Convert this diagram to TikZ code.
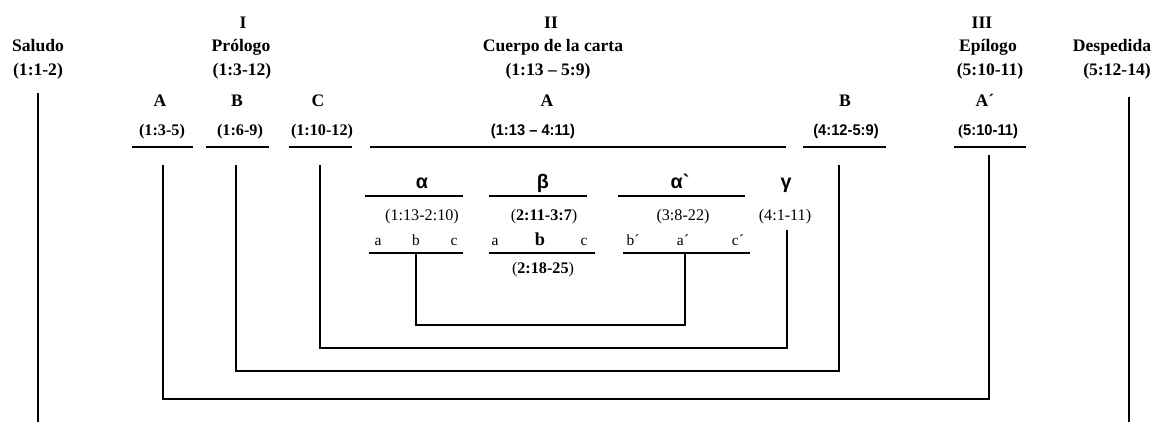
\documentclass[tikz,border=0pt]{standalone}
\usepackage{fontspec}
\setmainfont{Liberation Serif}
\setsansfont{Liberation Sans}
\newfontfamily\narrowsans[FakeStretch=0.95]{Liberation Sans}
\newfontfamily\gkfont[Ligatures=TeXOff]{Liberation Sans}
\usepackage{tikz}

\begin{document}
\begin{tikzpicture}[x=0.025cm,y=-0.025cm,
    every node/.style={inner sep=0pt, outer sep=0pt, anchor=base},
    hdr/.style={font=\bfseries\fontsize{12.5}{14}\selectfont},
    bref/.style={font=\bfseries\fontsize{11.5}{13}\selectfont},
    sref/.style={font=\narrowsans\bfseries\fontsize{11}{13}\selectfont},
    gk/.style={font=\gkfont\bfseries\fontsize{14}{16}\selectfont},
    rref/.style={font=\fontsize{11.5}{13}\selectfont},
    let/.style={font=\fontsize{11}{13}\selectfont},
    bar/.style={line width=1.3pt},
    link/.style={line width=1pt}]
      \useasboundingbox (0,0) rectangle (1173,424);
      % top headings
      \node[hdr] (sal) at (38,51) {Saludo};
      \node[hdr] (salr) at (38,75) {(1:1-2)};
      \node[hdr] (pI) at (243,28) {I};
      \node[hdr] (pro) at (241,51) {Prólogo};
      \node[hdr] (pror) at (242,75) {(1:3-12)};
      \node[hdr] (pII) at (551,28) {II};
      \node[hdr] (cue) at (553,51) {Cuerpo de la carta};
      \node[hdr] (cuer) at (548,75) {(1:13 – 5:9)};
      \node[hdr] (pIII) at (982,28) {III};
      \node[hdr] (epi) at (988,51) {Epílogo};
      \node[hdr] (epir) at (990,75) {(5:10-11)};
      \node[hdr] (des) at (1112,51) {Despedida};
      \node[hdr] (desr) at (1117,75) {(5:12-14)};
      % second level
      \node[hdr] (sA) at (160,106) {A};
      \node[hdr] (sB) at (237,106) {B};
      \node[hdr] (sC) at (318,106) {C};
      \node[hdr] (cA) at (547,106) {A};
      \node[hdr] (cB) at (845,106) {B};
      \node[hdr] (eA) at (985,106) {A´};
      \node[bref] (sAr) at (162,135) {(1:3-5)};
      \node[bref] (sBr) at (240,135) {(1:6-9)};
      \node[bref] (sCr) at (322,135) {(1:10-12)};
      \node[sref] (cAr) at (533,135) {(1:13 – 4:11)};
      \node[sref] (cBr) at (846,135) {(4:12-5:9)};
      \node[sref] (eAr) at (988,135) {{\rmfamily(}5:10-11)};
      % third level
      \node[gk] (ga) at (422,188) {α};
      \node[gk] (gb) at (543,188) {β};
      \node[gk] (gap) at (680,188) {α`};
      \node[gk] (gg) at (786,188) {γ};
      \node[rref] (gar) at (422,220) {(1:13-2:10)};
      \node[rref] (gbr) at (544,220) {(\textbf{2:11-3:7})};
      \node[rref] (gapr) at (683,220) {(3:8-22)};
      \node[rref] (ggr) at (785,220) {(4:1-11)};
      % fourth level
      \node[let] (l1a) at (378,245) {a};
      \node[let] (l1b) at (416,245) {b};
      \node[let] (l1c) at (454,245) {c};
      \node[let] (l2a) at (495,245) {a};
      \node[let, font=\bfseries\fontsize{13}{15}\selectfont] (l2b) at (540,245) {b};
      \node[let] (l2c) at (584,245) {c};
      \node[let] (l3b) at (633,245) {b´};
      \node[let] (l3a) at (683,245) {a´};
      \node[let] (l3c) at (738,245) {c´};
      \node[rref] (l2br) at (543,273) {(\textbf{2:18-25})};
      % bars
      \foreach \xa/\xb/\y in {132/193/147, 206/269/147, 289/352/147, 370/786/147,
          803/886/147, 954/1026/147, 365/463/196, 489/587/196, 618/745/196,
          369/463/253, 489/595/253, 623/750/253}
        \draw[bar] (\xa,\y) -- (\xb,\y);
      % link ends
      \coordinate (tSal) at (38,93);
      \coordinate (tDes) at (1129,97);
      \coordinate (bot) at (0,422);
      \coordinate (tA) at (163,165);
      \coordinate (tAp) at (989,155);
      \coordinate (tB) at (236,165);
      \coordinate (tBp) at (839,165);
      \coordinate (tC) at (320,165);
      \coordinate (tG) at (787,230);
      \coordinate (tb) at (416,253);
      \coordinate (tbp) at (685,253);
      \coordinate (rA) at (0,399);
      \coordinate (rB) at (0,371);
      \coordinate (rC) at (0,348);
      \coordinate (rb) at (0,325);
      % links
      \draw[link] (tSal) -- (tSal |- bot);
      \draw[link] (tDes) -- (tDes |- bot);
      \draw[link] (tA) -- (tA |- rA) -| (tAp);
      \draw[link] (tB) -- (tB |- rB) -| (tBp);
      \draw[link] (tC) -- (tC |- rC) -| (tG);
      \draw[link] (tb) -- (tb |- rb) -| (tbp);
    \end{tikzpicture}
\end{document}
